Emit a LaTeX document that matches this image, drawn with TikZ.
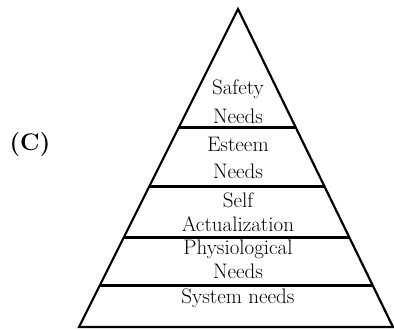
\documentclass[tikz,border=0pt]{standalone}
\usepackage{fontspec}
\usepackage{tikz}
\usetikzlibrary{calc}

\tikzset{
	level/.style = {align = center, inner sep = 0pt, anchor = base},
	divider/.style = {line width = 3pt},
	outline/.style = {line width = 2.2pt, line join = miter}
}

\begin{document}
\begin{tikzpicture}[x = 1pt, y = -1pt]
	\useasboundingbox (0, 0) rectangle (394, 331);
	% corners of the pyramid
	\coordinate (apex) at (238, 9);
	\coordinate (baseL) at (79, 327);
	\coordinate (baseR) at (393, 327);
	\draw[outline] (baseL) -- (apex) -- (baseR) -- cycle;
	\foreach \t/\name in {0.374/one, 0.557/two, 0.717/three, 0.868/four}{
		\draw[divider] ($(apex)!\t!(baseL)$) coordinate (\name-left) -- ($(apex)!\t!(baseR)$) coordinate (\name-right);}
	% last baseline / line gap / text
	\foreach \y/\gap/\txt/\name in {123.3/28.3/Safety\\Needs/safety, 179/27.3/Esteem\\Needs/esteem, 231.7/24/Self\\Actualization/self, 279/24/Physiological\\Needs/physio, 303.3/24/System needs/system}{
		\node[level, font = \fontsize{21}{\gap}\selectfont] (\name) at (238, \y) {\txt};}
	\node[font = \fontsize{24}{28}\selectfont\bfseries] (label) at (30, 144.5) {(C)};
\end{tikzpicture}
\end{document}
